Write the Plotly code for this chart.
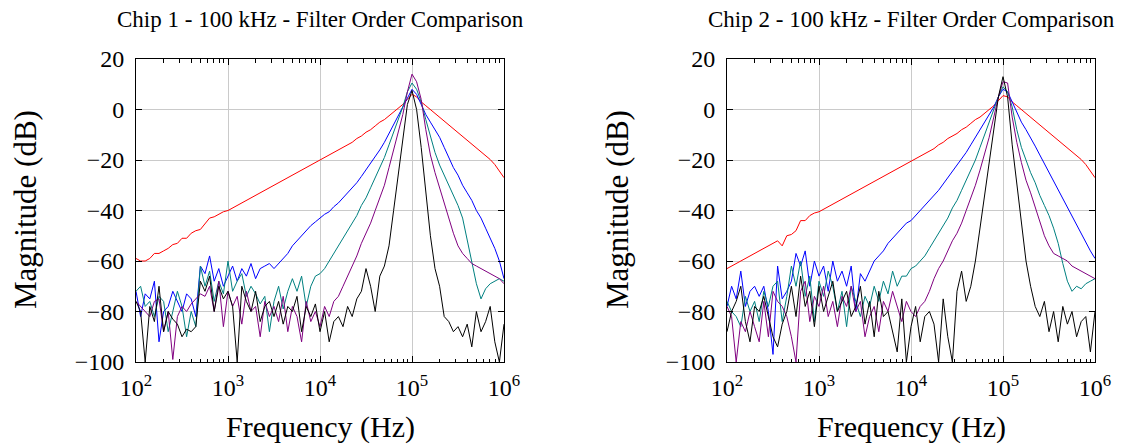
import plotly.graph_objects as go

# log10(frequency) grid of the measurement, 2.00 .. 6.00 in steps of 0.05
log_f = [2 + 0.05 * k for k in range(81)]
freq = [10 ** v for v in log_f]

# ---------------- Chip 1 ----------------
c1_red = [-59, -60, -60, -59, -57, -57, -56, -55, -53.5, -53,
          -51, -51, -49, -48, -47.5, -45, -43, -42.5, -41.5, -40.5,
          -40, -39, -38, -37, -36, -35, -34, -33, -32, -31,
          -30, -29, -28, -27, -26, -25, -24, -23, -22, -21,
          -20, -19, -18, -17, -16, -15, -14, -13, -11.5, -10.5,
          -9, -8, -6.5, -5, -4, -2.5, -1, 0.5, 2, 4,
          6, 5, 3, 1.5, 0, -1.5, -3, -4.5, -6, -7.5,
          -9, -10.5, -12, -13.5, -15, -16.5, -18, -19.8, -21.8, -24.2,
          -27]
c1_blue = [-72, -82, -73, -75, -68, -92, -80, -78, -72, -76,
           -80, -73, -75, -82, -62, -65, -58, -68, -63, -70,
           -66, -62, -68, -63, -66, -61, -67, -63, -62, -61,
           -63, -61, -59, -57, -54, -52, -50, -48, -46, -44.5,
           -43, -41.5, -40.5, -38.5, -37, -35, -33, -31, -29, -26.5,
           -24, -21.5, -19, -16, -13, -9.5, -6, -2.5, 1, 5,
           8, 6, 2, -2, -5, -8, -11, -15, -19, -23,
           -26, -30, -33, -36, -40, -43, -47, -51, -55, -60,
           -67]
c1_teal = [-72, -70, -78, -76, -82, -74, -76, -88, -80, -72,
           -78, -90, -80, -86, -62, -70, -64, -76, -68, -73,
           -60, -72, -68, -65, -74, -70, -73, -77, -74, -88,
           -76, -70, -79, -72, -67, -72, -66, -78, -70, -66,
           -65, -63, -60, -57, -54, -51, -48, -45, -42, -38,
           -35, -31, -27, -23, -19, -14, -9, -4, 1, 7,
           10.5, 8, 3, -4, -11, -17, -22, -26, -30, -34,
           -38, -43, -52, -61, -69, -75, -71, -69, -68, -67,
           -68]
c1_purple = [-76, -78, -80, -82, -76, -75, -88, -80, -99, -82,
             -78, -80, -77, -75, -73, -74, -70, -80, -68, -86,
             -72, -78, -74, -85, -72, -80, -78, -90, -76, -82,
             -78, -84, -74, -88, -78, -82, -92, -76, -84, -80,
             -86, -78, -82, -76, -74, -70, -66, -62, -58, -53,
             -49, -45, -40, -35, -30, -23, -16, -9, -2, 7,
             14, 11, 4, -8, -18, -25, -31, -38, -44, -49,
             -54, -57, -59, -61, -62, -63, -64, -65, -66, -67,
             -69]
c1_black = [-76, -80, -100, -78, -84, -70, -88, -80, -83, -85,
            -90, -87, -88, -86, -68, -72, -66, -80, -70, -75,
            -72, -78, -100, -70, -76, -80, -72, -84, -78, -76,
            -82, -76, -85, -78, -80, -74, -88, -78, -82, -77,
            -88, -80, -92, -84, -82, -86, -78, -82, -75, -72,
            -63, -70, -80, -66, -62, -54, -40, -26, -12, 2,
            7.5, 0, -15, -33, -50, -63, -70, -82, -84, -88,
            -86, -90, -85, -94, -80, -88, -84, -78, -92, -100,
            -85]

# ---------------- Chip 2 ----------------
c2_red = [-63, -62, -61, -60, -59, -58, -57, -56, -55, -54,
          -53, -52, -54, -50, -49.5, -48, -44, -44, -42, -41,
          -40.5, -39.5, -38.5, -37.5, -36.5, -35.5, -34.5, -33.5, -32.5, -31.5,
          -30.5, -29.5, -28.5, -27.5, -26.5, -25.5, -24.5, -23.5, -22.5, -21.5,
          -20.5, -19.5, -18.5, -17.5, -16.5, -15.5, -14, -13, -11.5, -10.5,
          -9.5, -8, -7, -5.5, -4, -3, -1.5, 0, 1.5, 3.5,
          5.5, 5, 3, 1.5, 0, -1.5, -3, -4.5, -6, -7.5,
          -9, -10.5, -12, -13.5, -15, -16.5, -18, -19.8, -21.8, -24.2,
          -27]
c2_blue = [-78, -70, -75, -64, -78, -72, -70, -74, -70, -80,
           -97, -62, -75, -72, -68, -57, -62, -56, -70, -60,
           -66, -62, -72, -60, -68, -64, -70, -62, -80, -65,
           -68, -64, -60, -58, -56, -53, -51, -49, -47, -45,
           -44, -42, -40, -38, -36, -34, -32, -29.5, -27, -24.5,
           -22, -19.5, -17, -14, -11, -8, -5, -2, 1, 5,
           8, 7, 3, -1, -5, -8, -11, -14.5, -18, -21.5,
           -25, -28.5, -32, -35.5, -39, -42.5, -46, -49.5, -53, -56,
           -59]
c2_teal = [-76, -80, -82, -86, -74, -80, -76, -84, -72, -78,
           -70, -68, -84, -74, -62, -70, -60, -74, -66, -84,
           -68, -74, -64, -70, -80, -72, -86, -70, -76, -82,
           -74, -78, -70, -76, -68, -73, -64, -70, -66, -66,
           -63, -62, -60, -58, -55, -52, -49, -46, -43, -39,
           -36, -32, -28, -24, -20, -15, -10, -5, 0, 5,
           9, 7, 1, -8, -15, -20, -25, -29, -34, -38,
           -42, -47, -53, -61, -68, -72, -70, -71, -69, -68,
           -67]
c2_purple = [-78, -82, -100, -84, -88, -80, -86, -92, -76, -90,
             -72, -76, -78, -82, -90, -100, -72, -68, -84, -74,
             -78, -70, -82, -76, -86, -74, -78, -70, -80, -76,
             -90, -82, -78, -88, -76, -80, -72, -78, -84, -76,
             -80, -82, -78, -76, -72, -67, -63, -60, -56, -52,
             -49, -45, -40, -35, -30, -24, -18, -11, -3, 5,
             11, 10.5, -3, -13, -21, -28, -33, -39, -44, -50,
             -54, -57, -58, -59, -60, -62, -63, -64, -65, -66,
             -67]
c2_black = [-88, -80, -76, -70, -84, -92, -78, -80, -74, -82,
            -90, -94, -85, -80, -70, -82, -66, -78, -72, -86,
            -70, -80, -74, -68, -80, -76, -72, -82, -78, -70,
            -85, -76, -90, -72, -82, -80, -88, -96, -75, -100,
            -86, -78, -92, -82, -80, -85, -100, -75, -90, -100,
            -72, -64, -76, -70, -60, -47, -35, -20, -7, 5,
            13, 5, -14, -30, -46, -60, -70, -78, -82, -76,
            -88, -80, -92, -78, -85, -80, -90, -84, -82, -96,
            -80]

titles = ["Chip 1 - 100 kHz - Filter Order Comparison",
          "Chip 2 - 100 kHz - Filter Order Comparison"]
x_tickvals = [1e2, 1e3, 1e4, 1e5, 1e6]
x_ticktext = ["10<sup>2</sup>", "10<sup>3</sup>", "10<sup>4</sup>",
              "10<sup>5</sup>", "10<sup>6</sup>"]
y_tickvals = [-100, -80, -60, -40, -20, 0, 20]

colors = {"red": "#ff0000", "blue": "#0000ff", "teal": "#008080",
          "purple": "#800080", "black": "#000000"}

chips = [
    [("red", c1_red), ("blue", c1_blue), ("teal", c1_teal),
     ("purple", c1_purple), ("black", c1_black)],
    [("red", c2_red), ("blue", c2_blue), ("teal", c2_teal),
     ("purple", c2_purple), ("black", c2_black)],
]

W, H = 1130, 444
plot_px = [(136, 504), (727, 1095)]
top_px, bot_px = 59, 362
FONT = "Liberation Serif"

fig = go.Figure()
minor_vals = [m * 10 ** e for e in range(2, 6) for m in range(2, 10)]

for i, series in enumerate(chips):
    xa = "x" if i == 0 else "x2"
    ya = "y" if i == 0 else "y2"
    for name, vals in series:
        fig.add_trace(go.Scatter(x=freq, y=vals, mode="lines", xaxis=xa, yaxis=ya,
                                 line=dict(color=colors[name], width=1),
                                 showlegend=False, hoverinfo="skip"))
    x0, x1 = plot_px[i]
    xdict = dict(type="log", range=[2, 6], domain=[x0 / W, x1 / W],
                 tickmode="array", tickvals=x_tickvals, ticktext=x_ticktext,
                 ticks="inside", ticklen=6, tickcolor="#000", tickwidth=1,
                 showline=True, linecolor="#000", linewidth=1, mirror="allticks",
                 showgrid=True, gridcolor="#cacaca", gridwidth=1.2,
                 zeroline=False, automargin=False,
                 tickfont=dict(family=FONT, size=24, color="#000"),
                 ticklabelstandoff=4,
                 minor=dict(tickmode="array", tickvals=minor_vals, ticks="inside",
                            ticklen=3.5, tickcolor="#000", tickwidth=0.8,
                            showgrid=False),
                 anchor=ya)
    ydict = dict(range=[-100, 20], domain=[1 - bot_px / H, 1 - top_px / H],
                 tickmode="array", tickvals=y_tickvals,
                 ticks="inside", ticklen=6, tickcolor="#000", tickwidth=1,
                 showline=True, linecolor="#000", linewidth=1, mirror="allticks",
                 showgrid=True, gridcolor="#cacaca", gridwidth=1.2,
                 zeroline=False, automargin=False,
                 tickfont=dict(family=FONT, size=24, color="#000"),
                 ticklabelstandoff=6,
                 anchor=xa)
    if i == 0:
        fig.update_layout(xaxis=xdict, yaxis=ydict)
    else:
        fig.update_layout(xaxis2=xdict, yaxis2=ydict)

    cx = (x0 + x1) / 2 / W
    fig.add_annotation(text=titles[i], x=cx, y=1 - 20 / H, xref="paper", yref="paper",
                       showarrow=False, xanchor="center", yanchor="middle",
                       font=dict(family=FONT, size=23, color="#000"))
    fig.add_annotation(text="Frequency (Hz)", x=cx, y=1 - 427 / H, xref="paper",
                       yref="paper", showarrow=False, xanchor="center",
                       yanchor="middle", font=dict(family=FONT, size=30, color="#000"))
    ycx = (25 if i == 0 else 617) / W
    fig.add_annotation(text="Magnitude (dB)", x=ycx, y=1 - 210 / H, xref="paper",
                       yref="paper", showarrow=False, xanchor="center",
                       yanchor="middle", textangle=-90,
                       font=dict(family=FONT, size=31, color="#000"))

fig.update_layout(width=W, height=H, margin=dict(l=0, r=0, t=0, b=0),
                  paper_bgcolor="white", plot_bgcolor="white")
fig.write_html("out.html")
